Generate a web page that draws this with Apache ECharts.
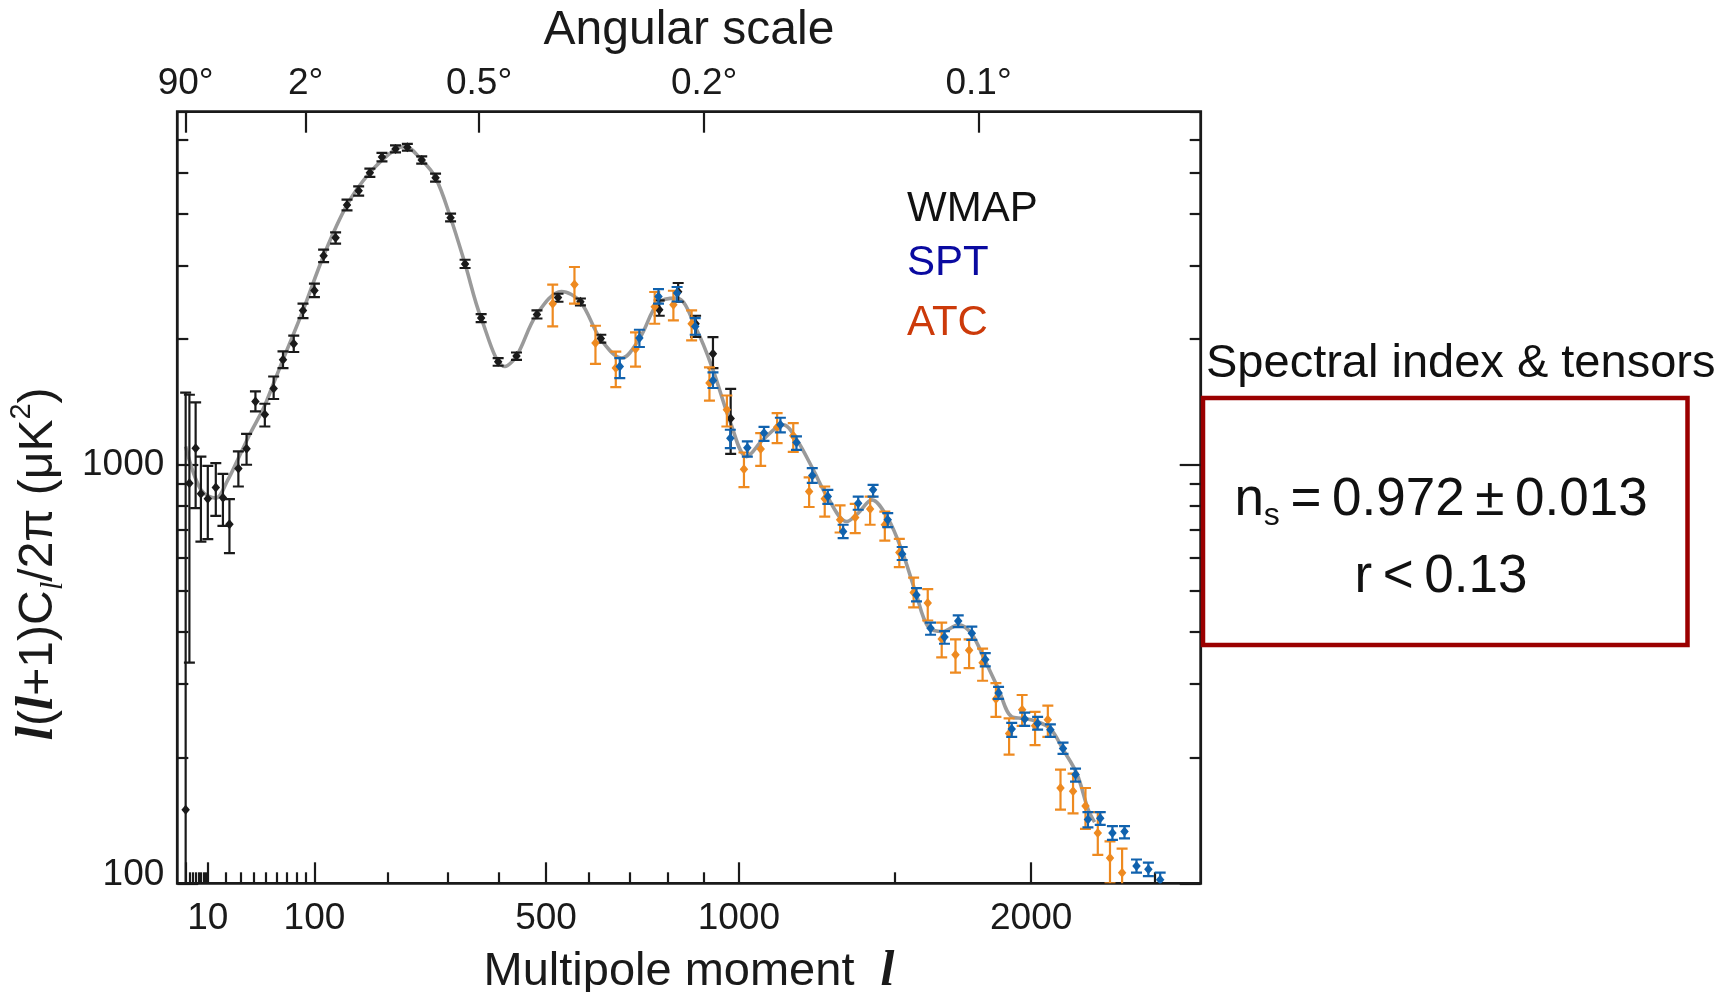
<!DOCTYPE html>
<html><head><meta charset="utf-8">
<script src="https://cdn.jsdelivr.net/npm/echarts@6/dist/echarts.min.js"></script>
<style>html,body{margin:0;padding:0;background:#fff}#c{width:1735px;height:992px}</style>
</head><body><div id="c"></div>
<script>
// ---------- data (multipole l, D_l in uK^2) ----------
const wmapL  = [2, 3, 5, 7, 10, 14, 18, 22, 28, 34, 41, 49, 57, 66, 77, 87, 100, 111, 126, 141, 157, 173, 191, 212, 231, 255, 279, 306, 333, 364, 398, 436, 480, 527, 579, 628, 777, 828, 876, 925, 976];
const wmapD  = [150, 905, 1098, 854, 831, 884, 836, 722, 981, 1094, 1420, 1321, 1525, 1786, 1951, 2344, 2617, 3168, 3498, 4188, 4531, 5004, 5456, 5702, 5752, 5367, 4868, 3904, 3026, 2247, 1766, 1823, 2293, 2516, 2458, 2009, 2353, 2598, 2178, 1846, 1293];
const wmapLo = [50, 337, 789, 656, 665, 756, 716, 616, 889, 1002, 1344, 1237, 1439, 1706, 1864, 2247, 2523, 3059, 3384, 4065, 4409, 4887, 5325, 5595, 5648, 5258, 4762, 3826, 2960, 2198, 1728, 1786, 2242, 2458, 2409, 1962, 2276, 2458, 2027, 1706, 1064];
const wmapHi = [1490, 1473, 1412, 1048, 996, 1011, 953, 829, 1078, 1188, 1500, 1402, 1629, 1870, 2039, 2432, 2715, 3274, 3602, 4312, 4640, 5116, 5578, 5817, 5861, 5474, 4977, 3992, 3098, 2297, 1803, 1859, 2344, 2569, 2503, 2050, 2476, 2726, 2276, 2024, 1522];

const sptL  = [675, 725, 775, 825, 875, 925, 975, 1025, 1075, 1125, 1175, 1225, 1275, 1325, 1375, 1425, 1475, 1525, 1575, 1625, 1675, 1725, 1775, 1825, 1875, 1925, 1975, 2025, 2075, 2125, 2175, 2225, 2275, 2325, 2375, 2425, 2475, 2525];
const sptD  = [1721, 2013, 2531, 2579, 2146, 1594, 1160, 1101, 1193, 1249, 1132, 944, 841, 694, 811, 873, 740, 613, 489, 407, 388, 424, 396, 343, 285, 234, 247, 241, 233, 210, 182, 142, 143, 132, 133, 110, 108, 102];
const sptLo = [1615, 1916, 2432, 2462, 2050, 1529, 1098, 1048, 1143, 1197, 1088, 907, 808, 669, 782, 841, 711, 593, 472, 393, 374, 410, 382, 330, 276, 224, 238, 233, 224, 204, 175, 136, 138, 127, 128, 106, 104, 96];
const sptHi = [1803, 2107, 2636, 2666, 2247, 1666, 1215, 1139, 1235, 1298, 1171, 983, 873, 720, 841, 897, 768, 637, 508, 420, 401, 437, 411, 355, 295, 242, 256, 250, 240, 217, 188, 148, 148, 137, 137, 114, 112, 106];

const actL  = [515, 565, 615, 665, 715, 765, 815, 865, 915, 965, 1015, 1065, 1115, 1165, 1215, 1265, 1315, 1365, 1415, 1465, 1515, 1565, 1615, 1665, 1715, 1765, 1815, 1865, 1915, 1965, 2015, 2065, 2115, 2165, 2215, 2265, 2315, 2365];
const actD  = [2432, 2705, 1958, 1706, 1896, 2391, 2418, 2178, 1571, 1357, 978, 1093, 1231, 1175, 865, 831, 740, 749, 785, 720, 618, 496, 468, 384, 352, 361, 337, 276, 228, 260, 238, 246, 169, 166, 153, 132, 115, 106];
const actLo = [2146, 2432, 1747, 1537, 1719, 2178, 2218, 1987, 1427, 1237, 886, 996, 1129, 1076, 794, 753, 690, 688, 720, 660, 570, 457, 425, 347, 319, 327, 305, 250, 203, 238, 214, 224, 150, 147, 135, 117, 100, 95];
const actHi = [2700, 2977, 2154, 1867, 2076, 2594, 2612, 2344, 1712, 1467, 1072, 1193, 1332, 1260, 935, 889, 801, 808, 841, 774, 666, 538, 505, 420, 383, 383, 364, 301, 248, 282, 257, 266, 187, 183, 169, 148, 126, 121];

const theoryL = [2, 7, 14, 21, 28, 37, 48, 57, 66, 87, 111, 141, 173, 212, 227, 255, 279, 306, 333, 364, 412, 436, 479, 535, 579, 627, 680, 726, 774, 824, 879, 925, 976, 1023, 1072, 1134, 1176, 1228, 1273, 1337, 1375, 1421, 1475, 1523, 1573, 1616, 1670, 1725, 1773, 1823, 1874, 1925, 1969, 2020, 2076, 2123, 2180, 2226, 2252];
const theoryD = [1108, 873, 834, 922, 1039, 1193, 1371, 1571, 1786, 2344, 3168, 4188, 5004, 5702, 5775, 5367, 4868, 3904, 3026, 2247, 1721, 1823, 2289, 2602, 2458, 2005, 1803, 2013, 2441, 2508, 2107, 1690, 1260, 1048, 1150, 1249, 1150, 975, 841, 733, 768, 826, 747, 627, 494, 411, 400, 415, 396, 342, 292, 250, 248, 244, 234, 210, 183, 150, 140];

// axis definitions
const xRange = [0.41, 2700];
const yRange = [100, 7000];
const xMajorTicks = [2, 10, 100, 500, 1000, 2000];
const xMinorTicks = [3, 4, 5, 6, 7, 8, 9, 20, 30, 40, 50, 60, 70, 80, 90, 200, 300, 400, 600, 700, 800, 900, 1500, 2500];
const xTickLabels = [10, 100, 500, 1000, 2000];
const angL = [2, 90, 360, 900, 1800];
const angLabels = ['90°', '2°', '0.5°', '0.2°', '0.1°'];
const yMajorTicks = [100, 1000];
const yMinorTicks = [200, 300, 400, 500, 600, 700, 800, 900, 2000, 3000, 4000, 5000, 6000, 7000];
const legendNames = ['WMAP', 'SPT', 'ATC'];

// ---------- rendering ----------
const P = 0.6;                       // power-law multipole scale
const fx = l => Math.pow(l, P);
const invx = u => Math.round(Math.pow(u, 1 / P));
const SANS = "'Liberation Sans', Arial, Helvetica, sans-serif";
const SERIF = "'Liberation Serif', 'Times New Roman', serif";
const INK = '#1a1a1a';

function errSeries(name, L, D, lo, hi, color, z) {
  return {
    name, type: 'custom', z, clip: true,
    xAxisIndex: 0, yAxisIndex: 0,
    data: L.map((l, i) => [fx(l), D[i], lo[i], hi[i]]),
    renderItem(params, api) {
      const c = api.coord([api.value(0), api.value(1)]);
      const pl = api.coord([api.value(0), api.value(2)]);
      const ph = api.coord([api.value(0), api.value(3)]);
      const cw = 5.5, m = 5;
      const st = { stroke: color, lineWidth: 2.2 };
      return {
        type: 'group', children: [
          { type: 'line', shape: { x1: c[0], y1: pl[1], x2: c[0], y2: ph[1] }, style: st },
          { type: 'line', shape: { x1: c[0] - cw, y1: pl[1], x2: c[0] + cw, y2: pl[1] }, style: st },
          { type: 'line', shape: { x1: c[0] - cw, y1: ph[1], x2: c[0] + cw, y2: ph[1] }, style: st },
          { type: 'polygon', shape: { points: [[c[0], c[1] - m], [c[0] + m * 0.85, c[1]], [c[0], c[1] + m], [c[0] - m * 0.85, c[1]]] }, style: { fill: color } }
        ]
      };
    }
  };
}

const tickLine = { color: INK, width: 2.2 };
const noLine = { show: false };
const xBase = { type: 'value', gridIndex: 0, min: fx(xRange[0]), max: fx(xRange[1]), splitLine: { show: false }, axisLine: noLine, nameMoveOverlap: false };
const yBase = { type: 'log', logBase: 10, gridIndex: 0, min: yRange[0], max: yRange[1], splitLine: { show: false }, axisLine: noLine, nameMoveOverlap: false, minorTick: { show: false } };

const chart = echarts.init(document.getElementById('c'), null, { renderer: 'canvas' });
chart.setOption({
  backgroundColor: '#ffffff',
  animation: false,
  grid: { left: 177.3, top: 111.7, width: 1023.4, height: 771.6, show: true, borderColor: INK, borderWidth: 2.8, backgroundColor: 'transparent', containLabel: false, outerBoundsMode: 'none' },
  xAxis: [
    Object.assign({}, xBase, {
      position: 'bottom',
      axisTick: { show: true, inside: true, length: 21, lineStyle: tickLine, customValues: xMajorTicks.map(fx) },
      axisLabel: { show: true, customValues: xTickLabels.map(fx), formatter: v => String(invx(v)), fontSize: 37, fontFamily: SANS, color: INK, margin: 17 },
      name: '{n|Multipole moment  }{bi|l}', nameLocation: 'middle', nameGap: 89,
      nameTextStyle: { verticalAlign: 'middle', rich: {
        n: { fontSize: 47, fontFamily: SANS, color: INK },
        bi: { fontSize: 50, fontFamily: SERIF, fontStyle: 'italic', fontWeight: 'bold', color: INK }
      } }
    }),
    Object.assign({}, xBase, {
      position: 'bottom',
      axisTick: { show: true, inside: true, length: 11, lineStyle: tickLine, customValues: xMinorTicks.map(fx) },
      axisLabel: { show: false }
    }),
    Object.assign({}, xBase, {
      position: 'top',
      axisTick: { show: true, inside: true, length: 21, lineStyle: tickLine, customValues: angL.map(fx) },
      axisLabel: { show: true, customValues: angL.map(fx), fontSize: 37, fontFamily: SANS, color: INK, margin: 9,
        formatter: v => { let bi = 0, bd = 1e9; angL.forEach((l, i) => { const d = Math.abs(fx(l) - v); if (d < bd) { bd = d; bi = i; } }); return angLabels[bi]; } },
      name: 'Angular scale', nameLocation: 'middle', nameGap: 81,
      nameTextStyle: { verticalAlign: 'middle', fontSize: 48, fontFamily: SANS, color: INK }
    })
  ],
  yAxis: [
    Object.assign({}, yBase, {
      position: 'left',
      axisTick: { show: true, inside: true, length: 21, lineStyle: tickLine, customValues: yMajorTicks },
      axisLabel: { show: true, customValues: yMajorTicks, fontSize: 37, fontFamily: SANS, color: INK, margin: 13,
        formatter: v => (Math.round(v) === 100 ? '{up|100}' : '{n|' + Math.round(v) + '}'),
        rich: { up: { fontSize: 37, fontFamily: SANS, color: INK, padding: [0, 0, 18, 0] }, n: { fontSize: 37, fontFamily: SANS, color: INK } } }
    }),
    Object.assign({}, yBase, {
      position: 'left',
      axisTick: { show: true, inside: true, length: 11, lineStyle: tickLine, customValues: yMinorTicks },
      axisLabel: { show: false }
    }),
    Object.assign({}, yBase, {
      position: 'right',
      axisTick: { show: true, inside: true, length: 21, lineStyle: tickLine, customValues: yMajorTicks },
      axisLabel: { show: false }
    }),
    Object.assign({}, yBase, {
      position: 'right',
      axisTick: { show: true, inside: true, length: 11, lineStyle: tickLine, customValues: yMinorTicks },
      axisLabel: { show: false }
    })
  ],
  series: [
    {
      name: 'theory', type: 'line', xAxisIndex: 0, yAxisIndex: 0, z: 1, clip: true,
      data: theoryL.map((l, i) => [fx(l), theoryD[i]]),
      smooth: 0.35, showSymbol: false, symbol: 'none',
      lineStyle: { color: '#9a9a9a', width: 3.6 }
    },
    errSeries(legendNames[0], wmapL, wmapD, wmapLo, wmapHi, INK, 2),
    errSeries(legendNames[2], actL, actD, actLo, actHi, '#ee8a20', 3),
    errSeries(legendNames[1], sptL, sptD, sptLo, sptHi, '#1062ae', 4)
  ],
  graphic: [
    { type: 'text', x: 38.7, y: 564, rotation: Math.PI / 2, style: {
      text: '{bi|l}{n|(}{bi|l}{n|+1)C}{sub|l}{n|/2π (μK}{sup|2}{n|)}', align: 'center', verticalAlign: 'middle',
      rich: {
        n: { fontSize: 48, fontFamily: SANS, fill: INK, lineHeight: 62 },
        bi: { fontSize: 52, fontFamily: SERIF, fontStyle: 'italic', fontWeight: 'bold', fill: INK, lineHeight: 62 },
        sub: { fontSize: 31, fontFamily: SERIF, fontStyle: 'italic', fill: INK, verticalAlign: 'bottom', lineHeight: 62 },
        sup: { fontSize: 29, fontFamily: SANS, fill: INK, verticalAlign: 'top', lineHeight: 62 }
      } } },
    { type: 'text', x: 907, y: 209.5, style: { text: legendNames[0], fontSize: 42, fontFamily: SANS, fill: '#111111', verticalAlign: 'middle' } },
    { type: 'text', x: 907, y: 263.5, style: { text: legendNames[1], fontSize: 42, fontFamily: SANS, fill: '#0a0aa0', verticalAlign: 'middle' } },
    { type: 'text', x: 907, y: 323.5, style: { text: legendNames[2], fontSize: 42, fontFamily: SANS, fill: '#cc3a0a', verticalAlign: 'middle' } },
    { type: 'text', x: 1206, y: 364, style: { text: 'Spectral index & tensors', fontSize: 47, fontFamily: SANS, fill: '#111111', verticalAlign: 'middle' } },
    { type: 'rect', shape: { x: 1203, y: 398, width: 484.5, height: 247 }, style: { fill: '#ffffff', stroke: '#9b0000', lineWidth: 4.5 } },
    { type: 'text', x: 1441, y: 500, style: {
      text: '{n|n}{s|s}{n|\u2009=\u20090.972\u2009±\u20090.013}', align: 'center', verticalAlign: 'middle',
      rich: { n: { fontSize: 53, fontFamily: SANS, fill: '#111111', lineHeight: 64 }, s: { fontSize: 32, fontFamily: SANS, fill: '#111111', verticalAlign: 'bottom', lineHeight: 64 } } } },
    { type: 'text', x: 1441, y: 577, style: { text: 'r\u2009<\u20090.13', fontSize: 53, fontFamily: SANS, fill: '#111111', align: 'center', verticalAlign: 'middle' } }
  ]
});
</script></body></html>
